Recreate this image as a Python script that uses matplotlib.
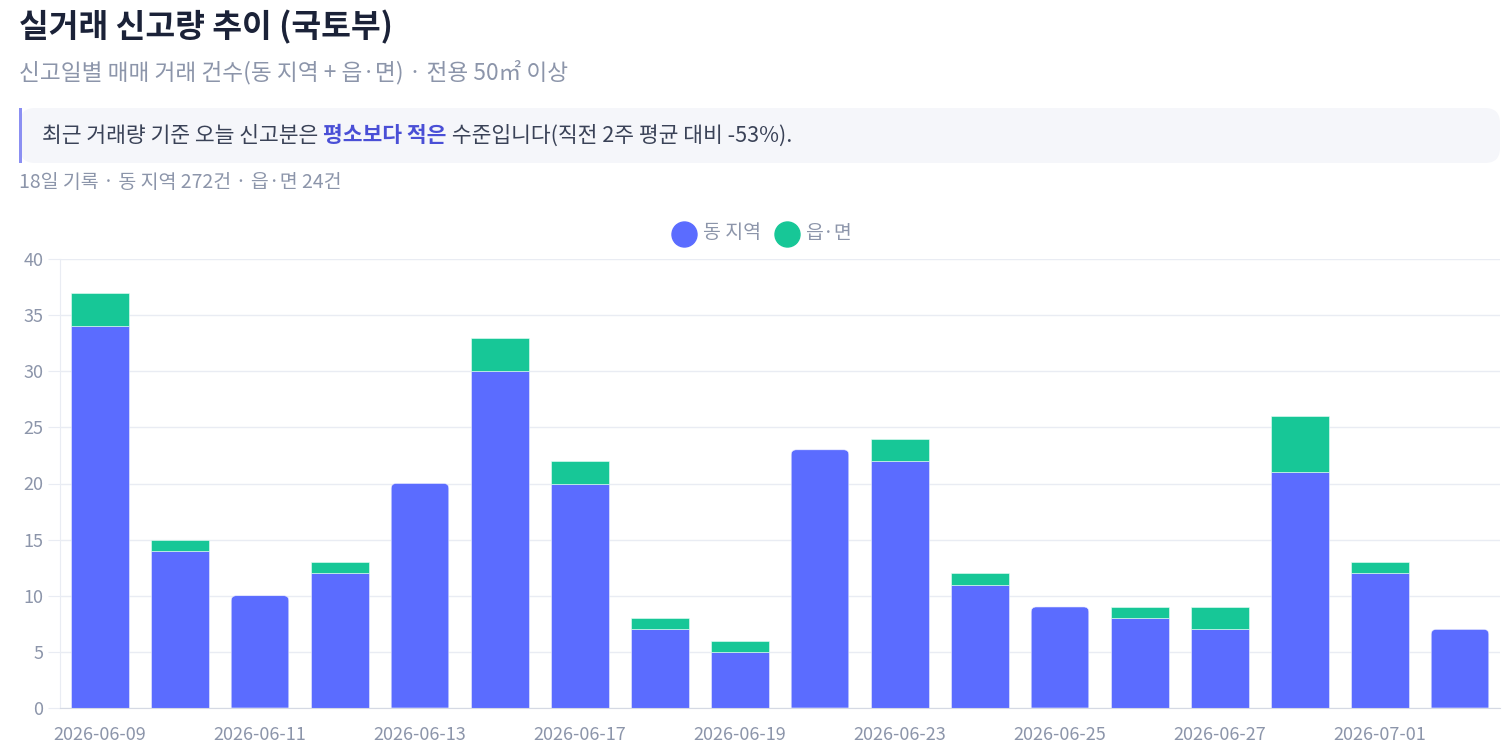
import matplotlib
matplotlib.use("Agg")
import matplotlib.pyplot as plt
from matplotlib.path import Path
from matplotlib.patches import PathPatch, FancyBboxPatch, Rectangle
from matplotlib.lines import Line2D

plt.rcParams['font.family'] = ['Noto Sans CJK KR', 'DejaVu Sans']

# data
dates = ['2026-06-09', '2026-06-10', '2026-06-11', '2026-06-12', '2026-06-13', '2026-06-16',
         '2026-06-17', '2026-06-18', '2026-06-19', '2026-06-22', '2026-06-23', '2026-06-24',
         '2026-06-25', '2026-06-26', '2026-06-27', '2026-06-30', '2026-07-01', '2026-07-02']
dong = [34, 14, 10, 12, 20, 30, 20, 7, 5, 23, 22, 11, 9, 8, 7, 21, 12, 7]
eupmyeon = [3, 1, 0, 1, 0, 3, 2, 1, 1, 0, 2, 1, 0, 1, 2, 5, 1, 0]
series_names = ['동 지역', '읍·면']
yticks = [0, 5, 10, 15, 20, 25, 30, 35, 40]

BLUE = '#5b6cff'
GREEN = '#17c797'
GRID = '#e9ecf3'
TICK = '#8c95aa'
TITLE = '#1b2238'

W, H = 1503, 754
fig = plt.figure(figsize=(W / 100, H / 100), dpi=100)
fig.patch.set_facecolor('white')

def fx(px):
    return px / W

def fy(py):
    return 1 - py / H

# header texts
fig.text(fx(19), fy(27), '실거래 신고량 추이 (국토부)', fontsize=23.3, fontweight='bold',
         color=TITLE, va='center', ha='left')
fig.text(fx(19), fy(72), '신고일별 매매 거래 건수(동 지역 + 읍·면) · 전용 50㎡ 이상', fontsize=16.3,
         color=TICK, va='center', ha='left')

# callout box
box = FancyBboxPatch((fx(20), fy(163)), fx(1480), (163 - 108) / H,
                     boxstyle='round,pad=0,rounding_size=0.01', transform=fig.transFigure,
                     facecolor='#f5f6fa', edgecolor='none', mutation_aspect=W / H)
fig.patches.append(box)
fig.patches.append(Rectangle((fx(19), fy(163)), fx(3), (163 - 108) / H,
                             transform=fig.transFigure, facecolor='#8b8ff2', edgecolor='none'))

fs_call = 15.5
t1 = fig.text(fx(42), fy(136), '최근 거래량 기준 오늘 신고분은 ', fontsize=fs_call, color='#3a4257',
              va='center', ha='left')
t2 = fig.text(0, 0, '평소보다 적은', fontsize=fs_call, fontweight='bold', color='#4a4fd6',
              va='center', ha='left')
t3 = fig.text(0, 0, ' 수준입니다(직전 2주 평균 대비 -53%).', fontsize=fs_call, color='#3a4257',
              va='center', ha='left')
fig.canvas.draw()
r = fig.canvas.get_renderer()
bb = t1.get_window_extent(r)
t2.set_position((bb.x1 / W, fy(136)))
fig.canvas.draw()
bb = t2.get_window_extent(r)
t3.set_position((bb.x1 / W, fy(136)))

fig.text(fx(19), fy(182), '18일 기록 · 동 지역 272건 · 읍·면 24건', fontsize=14, color=TICK,
         va='center', ha='left')

# chart
ax = fig.add_axes([fx(60), fy(708), fx(1440), (708 - 259) / H])
ax.set_xlim(-0.5, len(dates) - 0.5)
ax.set_ylim(0, 40)

px_x = 1440 / len(dates)
px_y = 449 / 40
rad = 5


def bar_path(x0, x1, y0, y1, rounded):
    if not rounded:
        verts = [(x0, y0), (x0, y1), (x1, y1), (x1, y0), (x0, y0)]
        codes = [Path.MOVETO, Path.LINETO, Path.LINETO, Path.LINETO, Path.CLOSEPOLY]
        return Path(verts, codes)
    rx = rad / px_x
    ry = rad / px_y
    verts = [(x0, y0), (x0, y1 - ry), (x0, y1), (x0 + rx, y1), (x1 - rx, y1), (x1, y1),
             (x1, y1 - ry), (x1, y0), (x0, y0)]
    codes = [Path.MOVETO, Path.LINETO, Path.CURVE3, Path.CURVE3, Path.LINETO, Path.CURVE3,
             Path.CURVE3, Path.LINETO, Path.CLOSEPOLY]
    return Path(verts, codes)


bw = 0.72
for i, (d, e) in enumerate(zip(dong, eupmyeon)):
    x0, x1 = i - bw / 2, i + bw / 2
    ax.add_patch(PathPatch(bar_path(x0, x1, 0, d, e == 0), facecolor=BLUE,
                           edgecolor='#eef0ff', linewidth=0.4, zorder=3))
    if e > 0:
        ax.add_patch(PathPatch(bar_path(x0, x1, d, d + e, False), facecolor=GREEN,
                               edgecolor='#eafff8', linewidth=0.4, zorder=3))

ax.set_yticks(yticks)
ax.set_xticks(range(0, len(dates), 2))
ax.set_xticklabels(dates[::2])
ax.grid(axis='y', color=GRID, linewidth=1, zorder=0)
ax.tick_params(axis='y', length=9, color=GRID, labelcolor=TICK, labelsize=13, pad=3)
ax.tick_params(axis='x', length=0, labelcolor=TICK, labelsize=13, pad=13)
for s in ['top', 'right']:
    ax.spines[s].set_visible(False)
ax.spines['left'].set_color(GRID)
ax.spines['bottom'].set_color('#d5d9e3')
ax.spines['bottom'].set_zorder(4)

# legend drawn by hand
leg_items = [(684, 703, BLUE), (787, 805, GREEN)]
for name, (cx, tx, c) in zip(series_names, leg_items):
    fig.add_artist(Line2D([fx(cx)], [fy(234)], marker='o', markersize=18, linestyle='none',
                          markerfacecolor=c, markeredgecolor=c, transform=fig.transFigure))
    fig.text(fx(tx), fy(233), name, fontsize=14, color=TICK, va='center', ha='left')

fig.savefig('out.png', dpi=100)
